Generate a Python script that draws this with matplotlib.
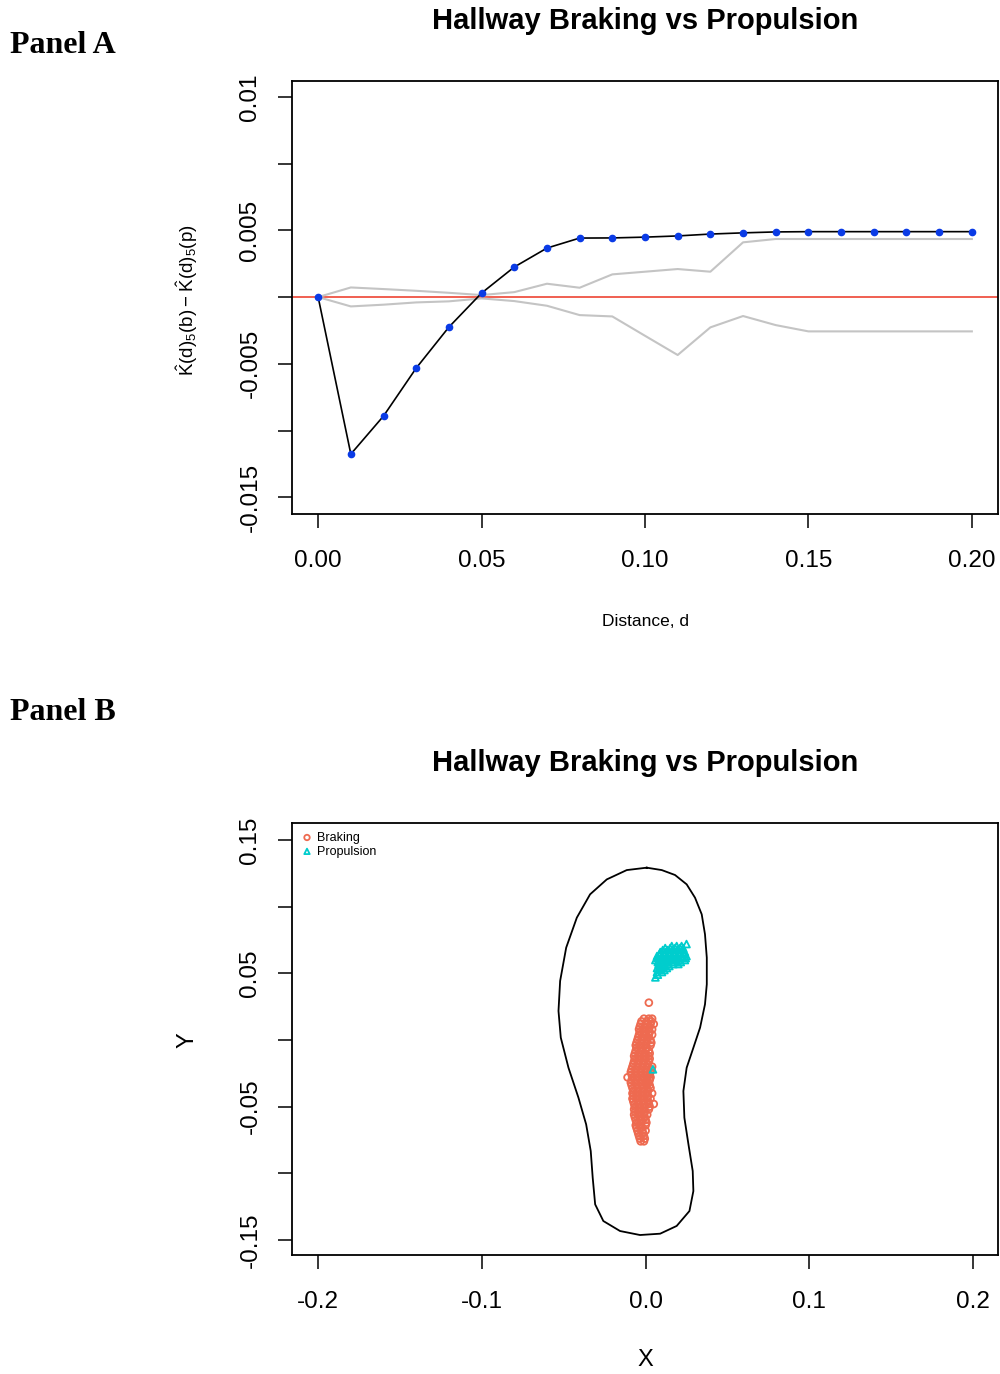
import numpy as np
import matplotlib
matplotlib.use('Agg')
import matplotlib.pyplot as plt

matplotlib.rcParams['font.family'] = ['Liberation Sans', 'DejaVu Sans']
matplotlib.rcParams['mathtext.fontset'] = 'custom'
matplotlib.rcParams['mathtext.rm'] = 'Liberation Sans'
matplotlib.rcParams['mathtext.default'] = 'regular'

# Panel A data: observed difference and envelope
dist = [0.00, 0.01, 0.02, 0.03, 0.04, 0.05, 0.06, 0.07, 0.08, 0.09, 0.10,
        0.11, 0.12, 0.13, 0.14, 0.15, 0.16, 0.17, 0.18, 0.19, 0.20]
k_diff = [0.0, -0.01176, -0.00891, -0.00532, -0.00225, 0.0003, 0.00225, 0.00367,
          0.00442, 0.00443, 0.00449, 0.00458, 0.00472, 0.00481, 0.00488, 0.0049,
          0.0049, 0.0049, 0.0049, 0.0049, 0.0049]
env_hi = [0.0, 0.00072, 0.0006, 0.00047, 0.00032, 0.00015, 0.00037, 0.001,
          0.0007, 0.0017, 0.0019, 0.0021, 0.0019, 0.0041, 0.00435, 0.00435,
          0.00435, 0.00435, 0.00435, 0.00435, 0.00435]
env_lo = [0.0, -0.0007, -0.00057, -0.0004, -0.00032, -0.0001, -0.0003, -0.00065,
          -0.00135, -0.00145, -0.0029, -0.00434, -0.00227, -0.00142, -0.0021,
          -0.00257, -0.00257, -0.00257, -0.00257, -0.00257, -0.00257]

# Panel B data: hallway outline
outline_x = [0.0007, 0.0099, 0.0180, 0.0251, 0.0302, 0.0343, 0.0363, 0.0374, 0.0374,
             0.0363, 0.0333, 0.0292, 0.0251, 0.0231, 0.0237, 0.0262, 0.0288, 0.0292,
             0.0268, 0.0190, 0.0089, -0.0034, -0.0156, -0.0258, -0.0308, -0.0323,
             -0.0335, -0.0363, -0.0410, -0.0471, -0.0518, -0.0532, -0.0522, -0.0485,
             -0.0420, -0.0339, -0.0237, -0.0115, 0.0007]
outline_y = [0.1293, 0.1275, 0.1238, 0.1168, 0.1068, 0.0943, 0.0793, 0.0618, 0.0418,
             0.0268, 0.0093, -0.0058, -0.0208, -0.0383, -0.0583, -0.0783, -0.0983,
             -0.1133, -0.1283, -0.1395, -0.1453, -0.1463, -0.1433, -0.1358, -0.1233,
             -0.1033, -0.0833, -0.0633, -0.0433, -0.0208, 0.0018, 0.0218, 0.0443,
             0.0693, 0.0918, 0.1093, 0.1205, 0.1275, 0.1293]

# braking events, read row by row (y, list of x)
braking_rows = [
    (0.028, [0.002]),
    (0.016, [-0.001, 0.002, 0.004]),
    (0.014, [-0.0025, 0.0005, 0.0035]),
    (0.012, [-0.003, 0.000, 0.003, 0.005]),
    (0.010, [-0.0035, -0.0005, 0.0025]),
    (0.008, [-0.004, -0.001, 0.002, 0.004]),
    (0.006, [-0.0035, -0.0005, 0.0025]),
    (0.004, [-0.004, -0.001, 0.002, 0.004]),
    (0.002, [-0.0045, -0.0015, 0.0015]),
    (0.000, [-0.005, -0.002, 0.001, 0.003]),
    (-0.002, [-0.0055, -0.0025, 0.0005, 0.0035]),
    (-0.004, [-0.006, -0.003, 0.000, 0.003]),
    (-0.006, [-0.0055, -0.0025, 0.0005]),
    (-0.008, [-0.006, -0.003, 0.000, 0.002]),
    (-0.010, [-0.0065, -0.0035, -0.0005, 0.0025]),
    (-0.012, [-0.007, -0.004, -0.001, 0.002]),
    (-0.014, [-0.0065, -0.0035, -0.0005, 0.0025]),
    (-0.016, [-0.007, -0.004, -0.001, 0.002]),
    (-0.018, [-0.0075, -0.0045, -0.0015, 0.0015]),
    (-0.020, [-0.008, -0.005, -0.002, 0.001, 0.004]),
    (-0.022, [-0.0085, -0.0055, -0.0025, 0.0005, 0.0035]),
    (-0.024, [-0.009, -0.006, -0.003, 0.000, 0.003]),
    (-0.026, [-0.0085, -0.0055, -0.0025, 0.0005, 0.0025]),
    (-0.028, [-0.011, -0.008, -0.005, -0.002, 0.001, 0.003]),
    (-0.030, [-0.0085, -0.0055, -0.0025, 0.0005, 0.0025]),
    (-0.032, [-0.009, -0.006, -0.003, 0.000, 0.002]),
    (-0.034, [-0.0085, -0.0055, -0.0025, 0.0005, 0.0025]),
    (-0.036, [-0.008, -0.005, -0.002, 0.001, 0.003]),
    (-0.038, [-0.0075, -0.0045, -0.0015, 0.0015]),
    (-0.040, [-0.008, -0.005, -0.002, 0.001, 0.004]),
    (-0.042, [-0.0075, -0.0045, -0.0015, 0.0015]),
    (-0.044, [-0.008, -0.005, -0.002, 0.001, 0.003]),
    (-0.046, [-0.0075, -0.0045, -0.0015, 0.0015]),
    (-0.048, [-0.007, -0.004, -0.001, 0.002, 0.005]),
    (-0.050, [-0.0065, -0.0035, -0.0005, 0.0025]),
    (-0.052, [-0.007, -0.004, -0.001, 0.002]),
    (-0.054, [-0.0065, -0.0035, -0.0005]),
    (-0.056, [-0.007, -0.004, -0.001, 0.001]),
    (-0.058, [-0.0065, -0.0035, -0.0005]),
    (-0.060, [-0.006, -0.003, 0.000]),
    (-0.062, [-0.0055, -0.0025, 0.0005]),
    (-0.064, [-0.006, -0.003, 0.000]),
    (-0.066, [-0.0055, -0.0025]),
    (-0.068, [-0.005, -0.002, 0.000]),
    (-0.070, [-0.0045, -0.0015]),
    (-0.072, [-0.004, -0.001]),
    (-0.074, [-0.0035, -0.0005]),
    (-0.076, [-0.003, -0.001]),
]
propulsion_rows = [
    (0.072, [0.025]),
    (0.0705, [0.016, 0.019, 0.022]),
    (0.069, [0.012, 0.015, 0.018, 0.021, 0.023]),
    (0.0675, [0.0105, 0.0135, 0.0165, 0.0195, 0.0225]),
    (0.066, [0.009, 0.012, 0.015, 0.018, 0.021, 0.024]),
    (0.0645, [0.0085, 0.0115, 0.0145, 0.0175, 0.0205, 0.0235]),
    (0.063, [0.007, 0.010, 0.013, 0.016, 0.019, 0.022, 0.025]),
    (0.0615, [0.0075, 0.0105, 0.0135, 0.0165, 0.0195, 0.0225, 0.0245]),
    (0.060, [0.006, 0.009, 0.012, 0.015, 0.018, 0.021, 0.024]),
    (0.0585, [0.0075, 0.0105, 0.0135, 0.0165, 0.0195, 0.0215]),
    (0.057, [0.008, 0.011, 0.014, 0.017, 0.020]),
    (0.0555, [0.0085, 0.0115, 0.0145]),
    (0.054, [0.007, 0.010, 0.013]),
    (0.0525, [0.0085, 0.0115]),
    (0.051, [0.007, 0.010]),
    (0.049, [0.0075]),
    (0.047, [0.006]),
    (-0.022, [0.0045]),
]

brake_x = [x for y, xs in braking_rows for x in xs]
brake_y = [y for y, xs in braking_rows for x in xs]
prop_x = [x for y, xs in propulsion_rows for x in xs]
prop_y = [y for y, xs in propulsion_rows for x in xs]

fig = plt.figure(figsize=(10, 13.74), dpi=100)

#################################################################
# Panel A
#################################################################
ax1 = fig.add_axes([0.292, 0.6259, 0.706, 0.3151])
ax1.axhline(0, color='#ee4433', lw=1.2, zorder=1)
ax1.plot(dist, env_hi, color='#c4c4c4', lw=1.5, zorder=2)
ax1.plot(dist, env_lo, color='#c4c4c4', lw=1.5, zorder=2)
ax1.plot(dist, k_diff, color='black', lw=1.2, zorder=3)
ax1.plot(dist, k_diff, 'o', color='#0a3be6', ms=4.5, zorder=4)
ax1.set_xlim(-0.008, 0.208)
ax1.set_ylim(-0.01625, 0.01618)
ax1.set_xticks([0.0, 0.05, 0.10, 0.15, 0.20])
ax1.set_xticklabels(['0.00', '0.05', '0.10', '0.15', '0.20'])
ax1.set_yticks([-0.015, -0.01, -0.005, 0.0, 0.005, 0.01, 0.015])
ax1.set_yticklabels(['-0.015', '', '-0.005', '', '0.005', '', '0.01'],
                    rotation=90, va='center')
ax1.tick_params(length=10, width=1.1, labelsize=17.5, pad=12)
ax1.tick_params(axis='x', pad=16)
for s in ax1.spines.values():
    s.set_linewidth(1.3)
fig.text(0.645, 0.548, 'Distance, d', ha='center', va='center', fontsize=12.5)
fig.text(0.187, 0.7817,
         r'$\hat{K}(d)_5(b) - \hat{K}(d)_5(p)$',
         rotation=90, ha='center', va='center', fontsize=13.5)
fig.text(0.645, 0.9847, 'Hallway Braking vs Propulsion', ha='center', va='center',
         fontsize=21, fontweight='bold')
fig.text(0.01, 0.9672, 'Panel A', ha='left', va='center', fontsize=23,
         fontweight='bold', family='Liberation Serif')

#################################################################
# Panel B
#################################################################
ax2 = fig.add_axes([0.292, 0.0866, 0.706, 0.3144])
ax2.plot(outline_x, outline_y, color='black', lw=1.3)
ax2.scatter(brake_x, brake_y, s=24, facecolors='none', edgecolors='#ee6a50',
            linewidths=1.3, label='Braking')
ax2.scatter(prop_x, prop_y, s=24, marker='^', facecolors='none',
            edgecolors='#00cdcd', linewidths=1.3, label='Propulsion')
ax2.set_xlim(-0.216, 0.2153)
ax2.set_ylim(-0.1613, 0.1628)
ax2.set_xticks([-0.2, -0.1, 0.0, 0.1, 0.2])
ax2.set_xticklabels(['-0.2', '-0.1', '0.0', '0.1', '0.2'])
ax2.set_yticks([-0.15, -0.10, -0.05, 0.0, 0.05, 0.10, 0.15])
ax2.set_yticklabels(['-0.15', '', '-0.05', '', '0.05', '', '0.15'],
                    rotation=90, va='center')
ax2.tick_params(length=10, width=1.1, labelsize=17.5, pad=12)
ax2.tick_params(axis='x', pad=16)
for s in ax2.spines.values():
    s.set_linewidth(1.3)
ax2.legend(loc='upper left', frameon=False, fontsize=9, handletextpad=0.3,
           borderaxespad=0.3, labelspacing=0.15, markerscale=0.8,
           handlelength=1.0)
fig.text(0.645, 0.0102, 'X', ha='center', va='center', fontsize=17)
fig.text(0.188, 0.2431, 'Y', rotation=90, ha='center', va='center', fontsize=17)
fig.text(0.645, 0.4447, 'Hallway Braking vs Propulsion', ha='center', va='center',
         fontsize=21, fontweight='bold')
fig.text(0.01, 0.4811, 'Panel B', ha='left', va='center', fontsize=23,
         fontweight='bold', family='Liberation Serif')

fig.savefig('out.png', dpi=100)
